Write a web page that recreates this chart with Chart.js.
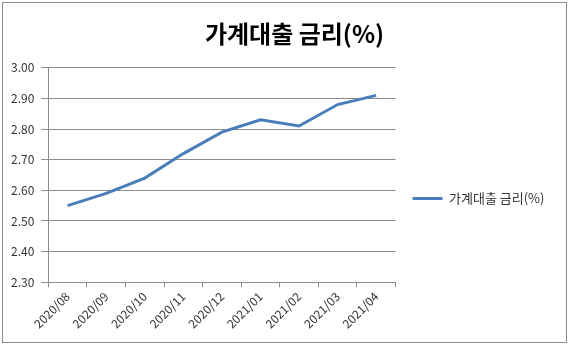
<!DOCTYPE html>
<html>
<head>
<meta charset="utf-8">
<script src="https://cdn.jsdelivr.net/npm/chart.js@4"></script>
<style>
  html, body { margin: 0; padding: 0; background: #fff; }
  #wrap { position: relative; width: 570px; height: 345px; }
  #frame { position: absolute; left: 2px; top: 2px; width: 563px; height: 339px; border: 1px solid #8c8c8c; pointer-events: none; }
  canvas { position: absolute; left: 0; top: 0; }
</style>
</head>
<body>
<div id="wrap">
  <canvas id="rateChart" width="570" height="345"></canvas>
  <div id="frame"></div>
</div>
<script>
// 월별 가계대출 금리
const months = ["2020/08", "2020/09", "2020/10", "2020/11", "2020/12", "2021/01", "2021/02", "2021/03", "2021/04"];
const rates = [2.55, 2.59, 2.64, 2.72, 2.79, 2.83, 2.81, 2.88, 2.91];
const yTicks = [2.30, 2.40, 2.50, 2.60, 2.70, 2.80, 2.90, 3.00];

const fontFamily = "'Noto Sans CJK KR', 'Noto Sans', sans-serif";
const gridGray = "#8c8c8c";

// nudge title and legend to where the excel chart has them
const boxNudge = {
    id: "boxNudge",
    afterLayout(chart) {
        chart.titleBlock.left += 59;
        const lg = chart.legend;
        lg.right = chart.width;   // legend text is wider than its box, don't clip it
        lg.top += 32;
        lg.bottom += 32;
    }
};

new Chart(document.getElementById("rateChart").getContext("2d"), {
    type: "line",
    data: {
        labels: months,
        datasets: [{
            label: "가계대출 금리(%)",
            data: rates,
            borderColor: "#4a7ebb",
            backgroundColor: "#4a7ebb",
            borderWidth: 3,
            pointRadius: 0,
            tension: 0,
            fill: false
        }]
    },
    options: {
        responsive: false,
        animation: false,
        layout: { padding: { left: 4, right: 44, top: 0, bottom: 12 } },
        plugins: {
            title: {
                display: true,
                text: "가계대출 금리(%)",
                color: "#000",
                font: { family: fontFamily, size: 24, weight: "bold" },
                padding: { top: 19, bottom: 20 }
            },
            legend: {
                position: "right",
                labels: {
                    usePointStyle: true,
                    pointStyle: "line",
                    pointStyleWidth: 30,
                    padding: 17,
                    color: "#333",
                    font: { family: fontFamily, size: 13 }
                }
            },
            tooltip: { enabled: false }
        },
        scales: {
            x: {
                offset: true,
                grid: { display: true, drawOnChartArea: false, drawTicks: true, offset: true, tickLength: 5, color: gridGray },
                border: { display: true, color: gridGray },
                ticks: {
                    minRotation: 45, maxRotation: 45,
                    color: "#333",
                    padding: 2,
                    font: { family: fontFamily, size: 12 }
                }
            },
            y: {
                min: 2.3,
                max: 3.0,
                afterBuildTicks: function (axis) {
                    axis.ticks = yTicks.map(v => ({ value: v }));
                },
                grid: { color: gridGray, tickLength: 7, lineWidth: 1 },
                border: { display: true, color: gridGray },
                ticks: {
                    color: "#333",
                    padding: 7,
                    font: { family: fontFamily, size: 12 },
                    callback: v => Number(v).toFixed(2)
                }
            }
        }
    },
    plugins: [boxNudge]
});
</script>
</body>
</html>
